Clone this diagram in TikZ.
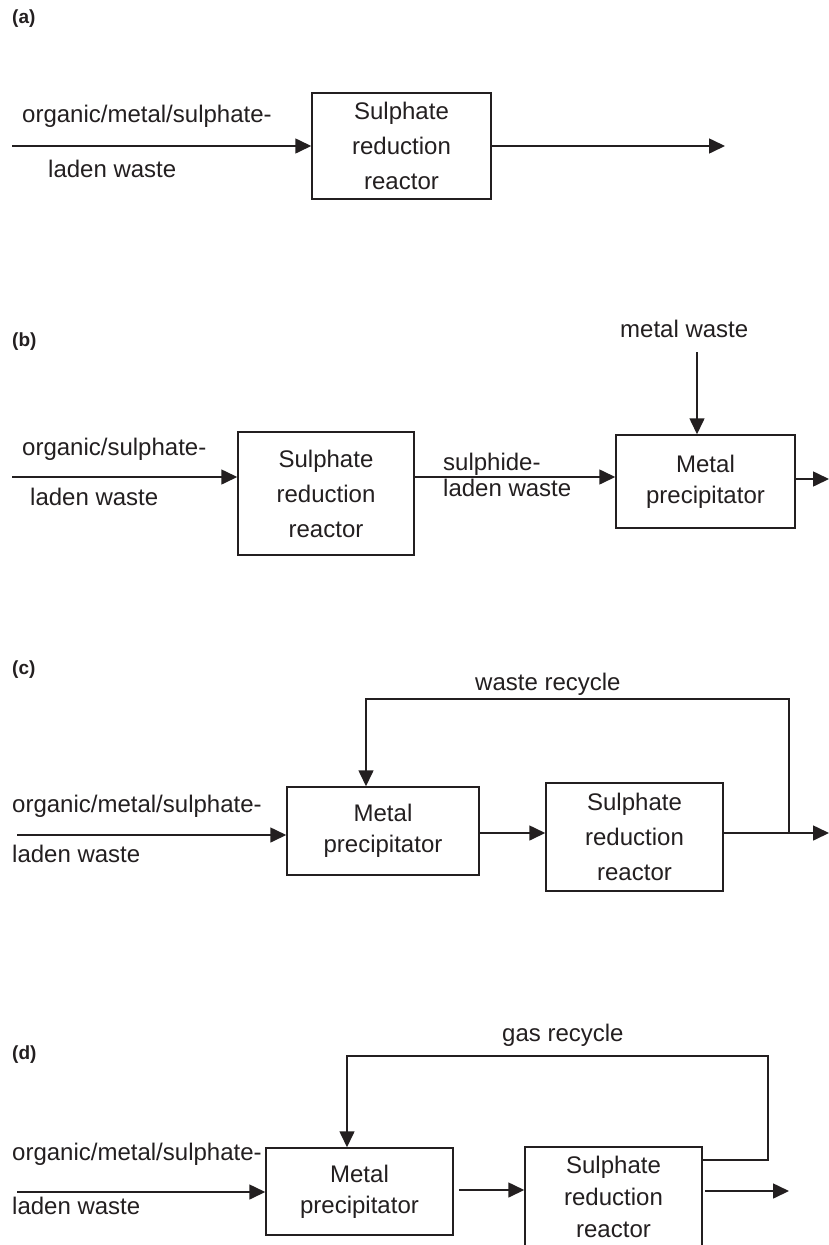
\documentclass[tikz,border=0pt]{standalone}
\usepackage{fontspec}
\setmainfont{Liberation Sans}
\usetikzlibrary{arrows.meta}
\definecolor{ink}{HTML}{231F20}
\tikzset{
  txt/.style={inner sep=0pt, text=ink, font=\fontsize{24}{32}\selectfont},
  plabel/.style={inner sep=0pt, text=ink, font=\fontsize{19}{22}\selectfont\bfseries, anchor=west},
  unit/.style={draw=ink, line width=1.5pt, rectangle, inner sep=0pt, align=center, text=ink,
    font=\fontsize{24}{31}\selectfont},
  srrbox/.style={unit, font=\fontsize{24}{35}\selectfont},
  flow/.style={draw=ink, line width=1.6pt, -{Triangle[length=16pt,width=15pt]}},
}
\begin{document}
\begin{tikzpicture}[x=1pt,y=-1pt]
\clip (0,0) rectangle (829,1245);
\fill[white] (0,0) rectangle (829,1245);

% ---------------- (a)
\node[plabel] (la) at (12,19) {(a)};
\node[txt, anchor=base west] (a_t1) at (22,122) {organic/metal/sulphate-};
\node[txt, anchor=base west] (a_t2) at (48,177) {laden waste};
\node[srrbox, minimum width=179pt, minimum height=106pt] (a_srr) at (401.5,146) {Sulphate\\reduction\\reactor};
\coordinate (a_in) at (12,146);
\coordinate (a_out) at (725,146);
\draw[flow] (a_in) -- (a_srr.west);
\draw[flow] (a_srr.east) -- (a_out);

% ---------------- (b)
\node[plabel] (lb) at (12,342) {(b)};
\node[txt, anchor=base west] (b_mw) at (620,337) {metal waste};
\node[txt, anchor=base west] (b_t1) at (22,455) {organic/sulphate-};
\node[txt, anchor=base west] (b_t2) at (30,505) {laden waste};
\node[srrbox, minimum width=176pt, minimum height=123pt] (b_srr) at (326,493.5) {Sulphate\\reduction\\reactor};
\node[unit, minimum width=179pt, minimum height=93pt] (b_mp) at (705.5,481.5) {Metal\\precipitator};
\node[txt, anchor=base west] (b_s1) at (443,470) {sulphide-};
\node[txt, anchor=base west] (b_s2) at (443,496) {laden waste};
\coordinate (b_in) at (12,477);
\coordinate (b_top) at (697,352);
\coordinate (b_out) at (829,479);
\draw[flow] (b_in) -- (b_in -| b_srr.west);
\draw[flow] (b_in -| b_srr.east) -- (b_in -| b_mp.west);
\draw[flow] (b_top) -- (b_top |- b_mp.north);
\draw[flow] (b_out -| b_mp.east) -- (b_out);

% ---------------- (c)
\node[plabel] (lc) at (12,670) {(c)};
\node[txt, anchor=base west] (c_wr) at (475,690) {waste recycle};
\node[txt, anchor=base west] (c_t1) at (12,812) {organic/metal/sulphate-};
\node[txt, anchor=base west] (c_t2) at (12,862) {laden waste};
\node[unit, minimum width=192pt, minimum height=88pt] (c_mp) at (383,831) {Metal\\precipitator};
\node[srrbox, minimum width=177pt, minimum height=108pt] (c_srr) at (634.5,837) {Sulphate\\reduction\\reactor};
\coordinate (c_in) at (17,835);
\coordinate (c_mid) at (479,833);
\coordinate (c_out) at (829,833);
\coordinate (c_j) at (789,833);
\coordinate (c_tr) at (789,699);
\coordinate (c_tl) at (366,699);
\draw[flow] (c_in) -- (c_in -| c_mp.west);
\draw[flow] (c_mid -| c_mp.east) -- (c_mid -| c_srr.west);
\draw[flow] (c_mid -| c_srr.east) -- (c_out);
\draw[flow] (c_j) -- (c_tr) -- (c_tl) -- (c_tl |- c_mp.north);

% ---------------- (d)
\node[plabel] (ld) at (12,1055) {(d)};
\node[txt, anchor=base west] (d_gr) at (502,1041) {gas recycle};
\node[txt, anchor=base west] (d_t1) at (12,1160) {organic/metal/sulphate-};
\node[txt, anchor=base west] (d_t2) at (12,1214) {laden waste};
\node[unit, minimum width=187pt, minimum height=87pt] (d_mp) at (359.5,1191.5) {Metal\\precipitator};
\node[unit, font=\fontsize{24}{32}\selectfont, minimum width=177pt, minimum height=100pt] (d_srr) at (613.5,1197) {Sulphate\\reduction\\reactor};
\coordinate (d_in) at (17,1192);
\coordinate (d_m1) at (459,1190);
\coordinate (d_o1) at (705,1191);
\coordinate (d_o2) at (789,1191);
\coordinate (d_r) at (768,1160);
\coordinate (d_tr) at (768,1056);
\coordinate (d_tl) at (347,1056);
\draw[flow] (d_in) -- (d_in -| d_mp.west);
\draw[flow] (d_m1) -- (d_m1 -| d_srr.west);
\draw[flow] (d_o1) -- (d_o2);
\draw[flow] (d_r -| d_srr.east) -- (d_r) -- (d_tr) -- (d_tl) -- (d_tl |- d_mp.north);
\end{tikzpicture}
\end{document}
